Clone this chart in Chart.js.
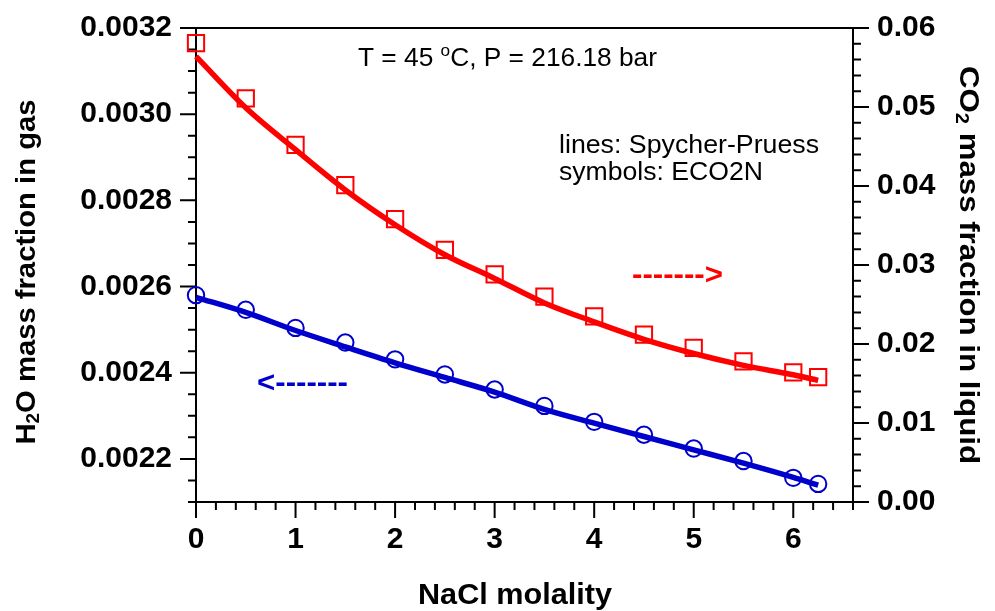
<!DOCTYPE html>
<html><head><meta charset="utf-8">
<script src="https://cdn.jsdelivr.net/npm/chart.js@4.4.0/dist/chart.umd.min.js"></script>
<style>html,body{margin:0;padding:0;background:#fff}#wrap{width:995px;height:611px}</style>
</head><body>
<div id="wrap"><canvas id="c" width="995" height="611"></canvas></div>
<script>
// ---- data ----
const molality = [0, 0.5, 1, 1.5, 2, 2.5, 3, 3.5, 4, 4.5, 5, 5.5, 6, 6.25];
// CO2 mass fraction in liquid (right axis)
const co2LiquidECO2N = [0.0581, 0.0511, 0.0452, 0.0401, 0.0358, 0.0319, 0.0288, 0.0260, 0.0235, 0.0212, 0.0195, 0.0178, 0.0164, 0.0158];
const co2LiquidSP    = [0.0564, 0.0499, 0.0446, 0.0395, 0.0351, 0.0313, 0.0283, 0.0252, 0.0228, 0.0206, 0.0188, 0.0173, 0.0161, 0.0154];
// H2O mass fraction in gas (left axis)
const h2oGasECO2N = [0.002580, 0.002546, 0.002504, 0.002470, 0.002431, 0.002396, 0.002361, 0.002323, 0.002286, 0.002256, 0.002224, 0.002195, 0.002156, 0.002142];
const h2oGasSP    = [0.002575, 0.002540, 0.002498, 0.002460, 0.002423, 0.002389, 0.002355, 0.002315, 0.002283, 0.002252, 0.002221, 0.002190, 0.002157, 0.002139];
// tick labels
const xTicks = [0, 1, 2, 3, 4, 5, 6];
const leftTicks = [0.0022, 0.0024, 0.0026, 0.0028, 0.0030, 0.0032];
const rightTicks = [0, 0.01, 0.02, 0.03, 0.04, 0.05, 0.06];
const xMinorStep = 0.2, leftMinorStep = 0.00005, rightMinorStep = 0.002;

const FONT = '"Liberation Sans", Arial, Helvetica, sans-serif';
const RED = '#ff0000', BLUE = '#0000cc';
const pts = (ys) => molality.map((x, i) => ({x, y: ys[i]}));

function richText(ctx, segs, cx, cy, angle, targetW) {
  ctx.save();
  ctx.translate(cx, cy);
  ctx.rotate(angle);
  let w = 0;
  segs.forEach(s => { ctx.font = s.font; s.w = ctx.measureText(s.t).width; w += s.w; });
  const k = targetW ? targetW / w : 1;
  ctx.scale(k, 1);
  let x = -w / 2;
  ctx.textBaseline = 'middle';
  ctx.textAlign = 'left';
  segs.forEach(s => { ctx.font = s.font; ctx.fillText(s.t, x, s.dy || 0); x += s.w; });
  ctx.restore();
}

function fitText(ctx, segs, x0, base, targetW) {
  ctx.save();
  let w = 0;
  segs.forEach(s => { ctx.font = s.font; s.w = ctx.measureText(s.t).width; w += s.w; });
  ctx.translate(x0, base);
  ctx.scale(targetW / w, 1);
  ctx.textBaseline = 'alphabetic';
  ctx.textAlign = 'left';
  let x = 0;
  segs.forEach(s => { ctx.font = s.font; ctx.fillText(s.t, x, s.dy || 0); x += s.w; });
  ctx.restore();
}

const framePlugin = {
  id: 'frame',
  beforeDatasetsDraw(chart) {
    const {ctx, chartArea: a, scales} = chart;
    const sx = scales.x, yl = scales.yL, yr = scales.yR;
    ctx.save();
    ctx.strokeStyle = '#000';
    ctx.lineWidth = 2;
    ctx.beginPath();
    ctx.rect(a.left, a.top, a.right - a.left, a.bottom - a.top);
    ctx.stroke();
    ctx.beginPath();
    const MAJ = 16, MIN = 8;
    for (let i = 0; ; i++) {
      const v = +(i * xMinorStep).toFixed(6);
      if (v > sx.max + 1e-9) break;
      const p = sx.getPixelForValue(v);
      const len = xTicks.includes(v) ? MAJ : MIN;
      ctx.moveTo(p, a.bottom); ctx.lineTo(p, a.bottom + len);
    }
    for (let i = 0; ; i++) {
      const v = +(yl.min + i * leftMinorStep).toFixed(7);
      if (v > yl.max + 1e-9) break;
      const p = yl.getPixelForValue(v);
      const len = leftTicks.some(t => Math.abs(t - v) < 1e-8) ? MAJ : MIN;
      ctx.moveTo(a.left, p); ctx.lineTo(a.left - len, p);
    }
    for (let i = 0; ; i++) {
      const v = +(yr.min + i * rightMinorStep).toFixed(6);
      if (v > yr.max + 1e-9) break;
      const p = yr.getPixelForValue(v);
      const len = rightTicks.some(t => Math.abs(t - v) < 1e-8) ? MAJ : MIN;
      ctx.moveTo(a.right, p); ctx.lineTo(a.right + len, p);
    }
    ctx.stroke();
    ctx.restore();
  },
  afterDraw(chart) {
    const {ctx} = chart;
    ctx.save();
    ctx.fillStyle = '#000';
    const B = 'bold 28px ' + FONT, Bs = 'bold 18px ' + FONT;
    richText(ctx, [{t: 'H', font: B}, {t: '2', font: Bs, dy: 7}, {t: 'O mass fraction in gas', font: B}], 27, 272, -Math.PI / 2, 345);
    richText(ctx, [{t: 'CO', font: B}, {t: '2', font: Bs, dy: 7}, {t: ' mass fraction in liquid', font: B}], 968, 265, Math.PI / 2, 398);
    richText(ctx, [{t: 'NaCl molality', font: 'bold 29px ' + FONT}], 515, 596, 0, 194);
    const R = '26px ' + FONT;
    fitText(ctx, [{t: 'T = 45 ', font: R}, {t: 'o', font: '17px ' + FONT, dy: -10}, {t: 'C, P = 216.18 bar', font: R}], 358, 66, 299);
    fitText(ctx, [{t: 'lines: Spycher-Pruess', font: R}], 559, 153, 260);
    fitText(ctx, [{t: 'symbols: ECO2N', font: R}], 559, 180, 204);
    function arrow(str, color, x0, x1, base) {
      ctx.save();
      ctx.font = 'bold 30px ' + FONT;
      ctx.fillStyle = color;
      const w = ctx.measureText(str).width;
      ctx.translate(x0, base);
      ctx.scale((x1 - x0) / w, 1);
      ctx.fillText(str, 0, 0);
      ctx.restore();
    }
    arrow('------->', RED, 632, 723, 284);
    arrow('<-------', BLUE, 257, 348, 392);
    ctx.restore();
  }
};

const zeroPad = s => { s.paddingTop = 0; s.paddingBottom = 0; s.paddingLeft = 0; s.paddingRight = 0; };
const tickFont = {family: FONT, size: 30, weight: 'bold'};
new Chart(document.getElementById('c'), {
  type: 'line',
  data: {
    datasets: [
      {label: 'CO2 Spycher-Pruess', data: pts(co2LiquidSP), yAxisID: 'yR', borderColor: RED, borderWidth: 5.5,
       pointRadius: 0, cubicInterpolationMode: 'monotone', fill: false, order: 0, clip: false},
      {label: 'H2O Spycher-Pruess', data: pts(h2oGasSP), yAxisID: 'yL', borderColor: BLUE, borderWidth: 5.5,
       pointRadius: 0, cubicInterpolationMode: 'monotone', fill: false, order: 0, clip: false},
      {label: 'CO2 ECO2N', data: pts(co2LiquidECO2N), yAxisID: 'yR', showLine: false, pointStyle: 'rect',
       pointRadius: 11.5, pointBorderWidth: 2, pointBorderColor: RED, pointBackgroundColor: 'rgba(0,0,0,0)', order: 1, clip: false},
      {label: 'H2O ECO2N', data: pts(h2oGasECO2N), yAxisID: 'yL', showLine: false, pointStyle: 'circle',
       pointRadius: 8.2, pointBorderWidth: 2, pointBorderColor: BLUE, pointBackgroundColor: 'rgba(0,0,0,0)', order: 1, clip: false}
    ]
  },
  options: {
    responsive: false,
    animation: false,
    events: [],
    layout: {padding: {top: 28, left: 0, right: 0, bottom: 0}},
    plugins: {legend: {display: false}, tooltip: {enabled: false}},
    scales: {
      x: {
        type: 'linear', position: 'bottom', min: 0, max: 6.6,
        afterBuildTicks: s => { s.ticks = xTicks.map(v => ({value: v})); },
        afterFit: s => { s.height = 109; zeroPad(s); },
        ticks: {font: tickFont, color: '#000', padding: 20, maxRotation: 0, autoSkip: false, callback: v => String(v)},
        grid: {display: false, drawTicks: false},
        border: {display: false}
      },
      yL: {
        type: 'linear', position: 'left', min: 0.0021, max: 0.0032,
        afterBuildTicks: s => { s.ticks = leftTicks.map(v => ({value: v})); },
        afterFit: s => { s.width = 196; zeroPad(s); },
        ticks: {font: tickFont, color: '#000', padding: 24, autoSkip: false, callback: v => v.toFixed(4)},
        grid: {display: false, drawTicks: false},
        border: {display: false}
      },
      yR: {
        type: 'linear', position: 'right', min: 0, max: 0.06,
        afterBuildTicks: s => { s.ticks = rightTicks.map(v => ({value: v})); },
        afterFit: s => { s.width = 142; zeroPad(s); },
        ticks: {font: tickFont, color: '#000', padding: 24, autoSkip: false, callback: v => v.toFixed(2)},
        grid: {display: false, drawTicks: false},
        border: {display: false}
      }
    }
  },
  plugins: [framePlugin]
});
</script>
</body></html>
